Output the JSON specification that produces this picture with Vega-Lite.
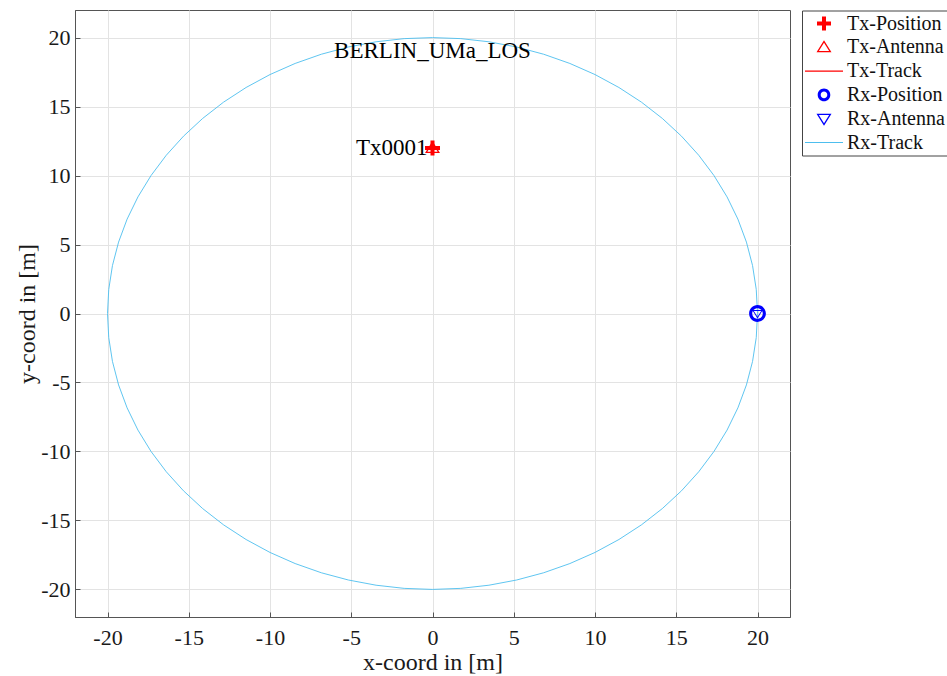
{
  "$schema": "https://vega.github.io/schema/vega-lite/v6.json",
  "width": 715,
  "height": 607,
  "autosize": {"type": "none"},
  "padding": {"left": 75, "top": 10, "right": 157, "bottom": 59},
  "background": "white",
  "config": {
    "font": "Liberation Serif",
    "view": {"stroke": "#555", "strokeWidth": 1},
    "axis": {
      "grid": true,
      "gridColor": "#e3e3e3",
      "gridWidth": 1,
      "domainColor": "#555",
      "tickColor": "#555",
      "tickSize": -5,
      "labelFont": "Liberation Serif",
      "labelFontSize": 22,
      "labelColor": "#1a1a1a",
      "labelFlush": false,
      "labelOverlap": false,
      "titleFont": "Liberation Serif",
      "titleFontSize": 24,
      "titleFontWeight": "normal",
      "titleColor": "#1a1a1a"
    }
  },
  "datasets": {
    "track": [
      {"i": 0, "x": 20, "y": 0},
      {"i": 1, "x": 19.924, "y": 1.743},
      {"i": 2, "x": 19.696, "y": 3.473},
      {"i": 3, "x": 19.319, "y": 5.176},
      {"i": 4, "x": 18.794, "y": 6.84},
      {"i": 5, "x": 18.126, "y": 8.452},
      {"i": 6, "x": 17.321, "y": 10},
      {"i": 7, "x": 16.383, "y": 11.472},
      {"i": 8, "x": 15.321, "y": 12.856},
      {"i": 9, "x": 14.142, "y": 14.142},
      {"i": 10, "x": 12.856, "y": 15.321},
      {"i": 11, "x": 11.472, "y": 16.383},
      {"i": 12, "x": 10, "y": 17.321},
      {"i": 13, "x": 8.452, "y": 18.126},
      {"i": 14, "x": 6.84, "y": 18.794},
      {"i": 15, "x": 5.176, "y": 19.319},
      {"i": 16, "x": 3.473, "y": 19.696},
      {"i": 17, "x": 1.743, "y": 19.924},
      {"i": 18, "x": 0, "y": 20},
      {"i": 19, "x": -1.743, "y": 19.924},
      {"i": 20, "x": -3.473, "y": 19.696},
      {"i": 21, "x": -5.176, "y": 19.319},
      {"i": 22, "x": -6.84, "y": 18.794},
      {"i": 23, "x": -8.452, "y": 18.126},
      {"i": 24, "x": -10, "y": 17.321},
      {"i": 25, "x": -11.472, "y": 16.383},
      {"i": 26, "x": -12.856, "y": 15.321},
      {"i": 27, "x": -14.142, "y": 14.142},
      {"i": 28, "x": -15.321, "y": 12.856},
      {"i": 29, "x": -16.383, "y": 11.472},
      {"i": 30, "x": -17.321, "y": 10},
      {"i": 31, "x": -18.126, "y": 8.452},
      {"i": 32, "x": -18.794, "y": 6.84},
      {"i": 33, "x": -19.319, "y": 5.176},
      {"i": 34, "x": -19.696, "y": 3.473},
      {"i": 35, "x": -19.924, "y": 1.743},
      {"i": 36, "x": -20, "y": 0},
      {"i": 37, "x": -19.924, "y": -1.743},
      {"i": 38, "x": -19.696, "y": -3.473},
      {"i": 39, "x": -19.319, "y": -5.176},
      {"i": 40, "x": -18.794, "y": -6.84},
      {"i": 41, "x": -18.126, "y": -8.452},
      {"i": 42, "x": -17.321, "y": -10},
      {"i": 43, "x": -16.383, "y": -11.472},
      {"i": 44, "x": -15.321, "y": -12.856},
      {"i": 45, "x": -14.142, "y": -14.142},
      {"i": 46, "x": -12.856, "y": -15.321},
      {"i": 47, "x": -11.472, "y": -16.383},
      {"i": 48, "x": -10, "y": -17.321},
      {"i": 49, "x": -8.452, "y": -18.126},
      {"i": 50, "x": -6.84, "y": -18.794},
      {"i": 51, "x": -5.176, "y": -19.319},
      {"i": 52, "x": -3.473, "y": -19.696},
      {"i": 53, "x": -1.743, "y": -19.924},
      {"i": 54, "x": 0, "y": -20},
      {"i": 55, "x": 1.743, "y": -19.924},
      {"i": 56, "x": 3.473, "y": -19.696},
      {"i": 57, "x": 5.176, "y": -19.319},
      {"i": 58, "x": 6.84, "y": -18.794},
      {"i": 59, "x": 8.452, "y": -18.126},
      {"i": 60, "x": 10, "y": -17.321},
      {"i": 61, "x": 11.472, "y": -16.383},
      {"i": 62, "x": 12.856, "y": -15.321},
      {"i": 63, "x": 14.142, "y": -14.142},
      {"i": 64, "x": 15.321, "y": -12.856},
      {"i": 65, "x": 16.383, "y": -11.472},
      {"i": 66, "x": 17.321, "y": -10},
      {"i": 67, "x": 18.126, "y": -8.452},
      {"i": 68, "x": 18.794, "y": -6.84},
      {"i": 69, "x": 19.319, "y": -5.176},
      {"i": 70, "x": 19.696, "y": -3.473},
      {"i": 71, "x": 19.924, "y": -1.743},
      {"i": 72, "x": 20, "y": 0}
    ],
    "markers": [
      {"series": "Tx-Position", "x": 0, "y": 12},
      {"series": "Tx-Antenna", "x": 0, "y": 12},
      {"series": "Rx-Position", "x": 20, "y": 0},
      {"series": "Rx-Antenna", "x": 20, "y": 0}
    ],
    "labels": [
      {"label": "Tx0001", "x": 0, "y": 12}
    ],
    "titles": [
      {"label": "BERLIN_UMa_LOS", "x": 0, "y": 19}
    ]
  },
  "layer": [
    {
      "data": {"name": "track"},
      "mark": {"type": "line", "color": "#4DBEEE", "strokeWidth": 0.9, "interpolate": "linear"},
      "encoding": {
        "x": {
          "field": "x", "type": "quantitative",
          "scale": {"domain": [-22, 22], "nice": false, "zero": false},
          "axis": {
            "title": "x-coord in [m]",
            "values": [-20, -15, -10, -5, 0, 5, 10, 15, 20],
            "labelExpr": "'' + datum.value",
            "labelPadding": 15,
            "titlePadding": 2
          }
        },
        "y": {
          "field": "y", "type": "quantitative",
          "scale": {"domain": [-22, 22], "nice": false, "zero": false},
          "axis": {
            "title": "y-coord in [m]",
            "values": [-20, -15, -10, -5, 0, 5, 10, 15, 20],
            "labelExpr": "'' + datum.value",
            "labelPadding": 10,
            "titlePadding": 1
          }
        },
        "order": {"field": "i", "type": "quantitative"}
      }
    },
    {
      "data": {"name": "markers"},
      "transform": [{"filter": "datum.series === 'Tx-Position'"}],
      "mark": {"type": "point", "filled": true, "opacity": 1, "strokeWidth": 0, "color": "#FF0000", "size": 144,
               "shape": "M-1.25,-0.333H-0.333V-1.25H0.333V-0.333H1.25V0.333H0.333V1.25H-0.333V0.333H-1.25Z"},
      "encoding": {
        "x": {"field": "x", "type": "quantitative"},
        "y": {"field": "y", "type": "quantitative"}
      }
    },
    {
      "data": {"name": "markers"},
      "transform": [{"filter": "datum.series === 'Tx-Antenna'"}],
      "mark": {"type": "point", "filled": true, "opacity": 1, "strokeWidth": 0, "color": "#FF0000", "size": 144,
               "shape": "M0,-1.167L1.25,0.833L-1.25,0.833ZM0,-0.758L-0.859,0.617L0.859,0.617Z"},
      "encoding": {
        "x": {"field": "x", "type": "quantitative"},
        "y": {"field": "y", "type": "quantitative"}
      }
    },
    {
      "data": {"name": "markers"},
      "transform": [{"filter": "datum.series === 'Rx-Position'"}],
      "mark": {"type": "point", "filled": true, "opacity": 1, "strokeWidth": 0, "color": "#0000FF", "size": 144,
               "shape": "M1.4,0A1.4,1.4,0,1,1,-1.4,0A1.4,1.4,0,1,1,1.4,0ZM0.88,0A0.88,0.88,0,1,0,-0.88,0A0.88,0.88,0,1,0,0.88,0Z"},
      "encoding": {
        "x": {"field": "x", "type": "quantitative"},
        "y": {"field": "y", "type": "quantitative"}
      }
    },
    {
      "data": {"name": "markers"},
      "transform": [{"filter": "datum.series === 'Rx-Antenna'"}],
      "mark": {"type": "point", "filled": true, "opacity": 1, "strokeWidth": 0, "color": "#0000FF", "size": 72,
               "shape": "M0,1.167L1.25,-0.833L-1.25,-0.833ZM0,0.758L-0.859,-0.617L0.859,-0.617Z"},
      "encoding": {
        "x": {"field": "x", "type": "quantitative"},
        "y": {"field": "y", "type": "quantitative"}
      }
    },
    {
      "data": {"name": "markers"},
      "mark": {"type": "point", "filled": true, "opacity": 0, "strokeWidth": 0, "size": 144},
      "encoding": {
        "x": {"field": "x", "type": "quantitative"},
        "y": {"field": "y", "type": "quantitative"},
        "color": {
          "field": "series", "type": "nominal",
          "scale": {
            "domain": ["Tx-Position", "Tx-Antenna", "Tx-Track", "Rx-Position", "Rx-Antenna", "Rx-Track"],
            "range": ["#FF0000", "#FF0000", "#FF0000", "#0000FF", "#0000FF", "#4DBEEE"]
          },
          "legend": {
            "title": null,
            "orient": "none",
            "legendX": 727,
            "legendY": 0.5,
            "padding": 3,
            "symbolOffset": 9,
            "fillColor": "white",
            "strokeColor": "#444",
            "symbolSize": 144,
            "symbolOpacity": 1,
            "symbolStrokeWidth": 0,
            "labelFont": "Liberation Serif",
            "labelFontSize": 20,
            "labelColor": "#111",
            "labelOffset": 13,
            "rowPadding": 3.8,
            "labelLimit": 300
          }
        },
        "shape": {
          "field": "series", "type": "nominal",
          "scale": {
            "domain": ["Tx-Position", "Tx-Antenna", "Tx-Track", "Rx-Position", "Rx-Antenna", "Rx-Track"],
            "range": [
              "M-1.167,-0.333H-0.333V-1.167H0.333V-0.333H1.167V0.333H0.333V1.167H-0.333V0.333H-1.167Z",
              "M0,-1.167L1.25,0.833L-1.25,0.833ZM0,-0.758L-0.859,0.617L0.859,0.617Z",
              "M-3.167,-0.09H3.167V0.09H-3.167Z",
              "M1.05,0A1.05,1.05,0,1,1,-1.05,0A1.05,1.05,0,1,1,1.05,0ZM0.55,0A0.55,0.55,0,1,0,-0.55,0A0.55,0.55,0,1,0,0.55,0Z",
              "M0,1.167L1.25,-0.833L-1.25,-0.833ZM0,0.758L-0.859,-0.617L0.859,-0.617Z",
              "M-3.167,-0.09H3.167V0.09H-3.167Z"
            ]
          },
          "legend": {
            "title": null,
            "orient": "none",
            "legendX": 727,
            "legendY": 0.5,
            "padding": 3,
            "symbolOffset": 9,
            "fillColor": "white",
            "strokeColor": "#444",
            "symbolSize": 144,
            "symbolOpacity": 1,
            "symbolStrokeWidth": 0,
            "labelFont": "Liberation Serif",
            "labelFontSize": 20,
            "labelColor": "#111",
            "labelOffset": 13,
            "rowPadding": 3.8,
            "labelLimit": 300
          }
        }
      }
    },
    {
      "data": {"name": "labels"},
      "mark": {"type": "text", "align": "right", "baseline": "middle", "dx": -5, "fontSize": 23, "font": "Liberation Serif", "color": "#000"},
      "encoding": {
        "x": {"field": "x", "type": "quantitative"},
        "y": {"field": "y", "type": "quantitative"},
        "text": {"field": "label", "type": "nominal"}
      }
    },
    {
      "data": {"name": "titles"},
      "mark": {"type": "text", "align": "center", "baseline": "middle", "fontSize": 23, "font": "Liberation Serif", "color": "#000"},
      "encoding": {
        "x": {"field": "x", "type": "quantitative"},
        "y": {"field": "y", "type": "quantitative"},
        "text": {"field": "label", "type": "nominal"}
      }
    }
  ]
}
